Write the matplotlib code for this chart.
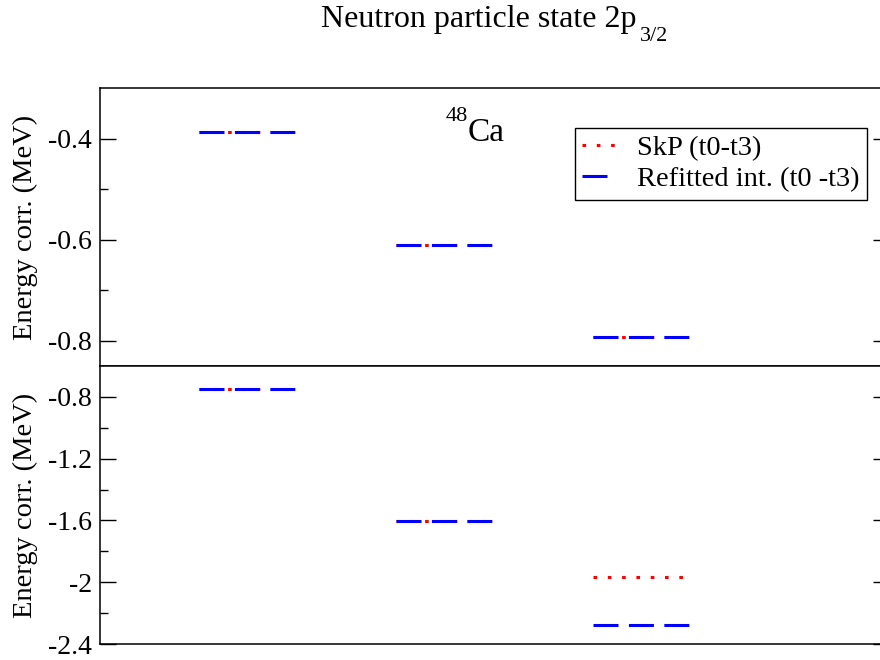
import matplotlib
matplotlib.use("Agg")
import matplotlib.pyplot as plt

plt.rcParams['font.family'] = ['Liberation Serif', 'DejaVu Serif']
plt.rcParams['lines.scale_dashes'] = False

# level positions (start of each bar, width 1) and energies
level_start = [1, 3, 5]
top_skp = [-0.388, -0.610, -0.792]
top_refit = [-0.388, -0.610, -0.792]
bot_skp = [-0.748, -1.606, -1.968]
bot_refit = [-0.748, -1.606, -2.280]

top_ticks = [-0.8, -0.6, -0.4]
top_minor = [-0.7, -0.5]
bot_ticks = [-2.4, -2.0, -1.6, -1.2, -0.8]
bot_minor = [-2.2, -1.8, -1.4, -1.0]

fig = plt.figure(figsize=(8.8, 6.6), dpi=100)
ax1 = fig.add_axes([100/880, 1-366/660, 789/880, 278/660])
ax2 = fig.add_axes([100/880, 1-644/660, 789/880, 278/660])

red_style = dict(color='red', lw=2.2, linestyle=(0, (2.6, 7.7)))
blue_style = dict(color='blue', lw=2.2, linestyle=(0, (18, 7.5)))

for ax, skp, refit in [(ax1, top_skp, top_refit), (ax2, bot_skp, bot_refit)]:
    for i, (x0, e1, e2) in enumerate(zip(level_start, skp, refit)):
        ax.plot([x0, x0 + 1], [e1, e1], label='SkP (t0-t3)' if i == 0 else None, **red_style)
        ax.plot([x0, x0 + 1], [e2, e2], label='Refitted int. (t0 -t3)' if i == 0 else None, **blue_style)
    ax.set_xlim(0, 8)
    ax.set_xticks([])
    ax.tick_params(axis='y', which='both', direction='in', left=True, right=True,
                   labelsize=20, pad=6, width=1)
    ax.tick_params(axis='y', which='major', length=11.5)
    ax.tick_params(axis='y', which='minor', length=5.8)
    for s in ax.spines.values():
        s.set_linewidth(1.1)
    ax.set_ylabel('Energy corr. (MeV)', fontsize=20.5, labelpad=7)

ax1.set_ylim(-0.85, -0.3)
ax1.set_yticks(top_ticks)
ax1.set_yticklabels(['-0.8', '-0.6', '-0.4'])
ax1.set_yticks(top_minor, minor=True)

ax2.set_ylim(-2.4, -0.6)
ax2.set_yticks(bot_ticks)
ax2.set_yticklabels(['-2.4', '-2', '-1.6', '-1.2', '-0.8'])
ax2.set_yticks(bot_minor, minor=True)

# nucleus label: 48 as superscript of Ca
ax1.text(3.73, -0.404, 'Ca', fontsize=24, ha='left', va='baseline')
ax1.text(3.73, -0.366, '48', fontsize=16, ha='right', va='baseline')

leg = ax1.legend(loc='upper right', bbox_to_anchor=(867/880, 1-128/660),
                 bbox_transform=fig.transFigure, borderaxespad=0, fontsize=20.5,
                 fancybox=False, framealpha=1, edgecolor='black',
                 handlelength=1.17, handletextpad=0.75, borderpad=0.26,
                 labelspacing=0.17)
leg.get_frame().set_linewidth(1.0)

# title with a lowered subscript, centred over the axes
main = fig.text(0, 1-27/660, 'Neutron particle state 2p', fontsize=23,
                ha='left', va='baseline')
sub = fig.text(0, 1-41/660, '3/2', fontsize=16, ha='left', va='baseline')
fig.canvas.draw()
r = fig.canvas.get_renderer()
w_main = main.get_window_extent(r).width
w_sub = sub.get_window_extent(r).width
gap = 3
x_start = 494.5 - (w_main + gap + w_sub) / 2
main.set_x(x_start / 880)
sub.set_x((x_start + w_main + gap) / 880)

fig.savefig('out.png', dpi=100)
